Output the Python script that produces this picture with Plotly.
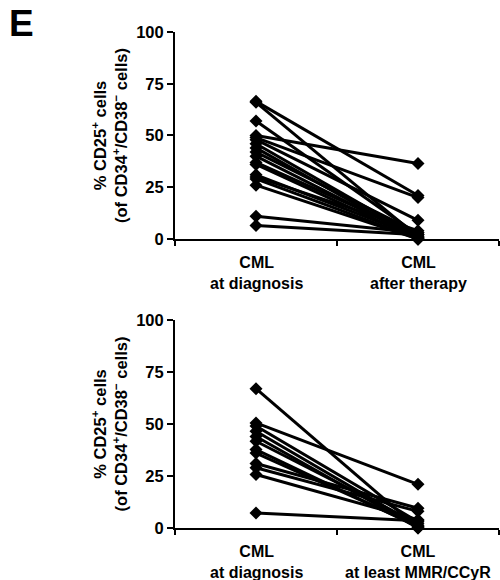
import plotly.graph_objects as go

# Paired patient values (% CD25+ of CD34+/CD38- cells)
categories_top = ["CML<br>at diagnosis", "CML<br>after therapy"]
categories_bottom = ["CML<br>at diagnosis", "CML<br>at least MMR/CCyR"]

diagnosis_top = [66.5, 66.0, 57.0, 50.0, 49.0, 48.0, 46.0, 44.0, 42.0, 40.0,
                 37.0, 36.0, 31.0, 30.0, 29.0, 26.0, 11.0, 6.5]
after_therapy = [21.0, 1.0, 2.0, 36.5, 20.0, 9.0, 1.0, 0.0, 3.0, 0.5,
                 2.0, 0.0, 1.0, 4.0, 0.0, 0.0, 3.0, 2.0]

diagnosis_bottom = [67.0, 50.5, 49.0, 46.5, 44.0, 41.7, 37.7, 36.0, 31.0, 29.0, 25.7, 7.2]
mmr_ccyr = [0.0, 21.0, 3.0, 1.0, 0.0, 2.0, 0.5, 1.0, 9.5, 8.0, 4.0, 3.5]

y_ticks = [0, 25, 50, 75, 100]

FONT = "Liberation Sans"
BLACK = "#000000"

fig = go.Figure()


def add_pairs(before, after, xa, ya):
    for b, a in zip(before, after):
        fig.add_trace(go.Scatter(
            x=[0, 1], y=[b, a], xaxis=xa, yaxis=ya,
            mode="lines+markers",
            line=dict(color=BLACK, width=3),
            marker=dict(symbol="diamond", size=10, color=BLACK),
            cliponaxis=False, showlegend=False, hoverinfo="skip",
        ))


add_pairs(diagnosis_top, after_therapy, "x", "y")
add_pairs(diagnosis_bottom, mmr_ccyr, "x2", "y2")

ytitle = "% CD25<sup>+</sup> cells<br>(of CD34<sup>+</sup>/CD38<sup>−</sup> cells)"

xaxis_common = dict(
    range=[-0.5, 1.5], tickvals=[-0.5, 0.5, 1.5], ticktext=["", "", ""],
    ticks="outside", ticklen=5, tickwidth=2, tickcolor=BLACK,
    showline=True, linecolor=BLACK, linewidth=2,
    showgrid=False, zeroline=False, fixedrange=True,
)
yaxis_common = dict(
    range=[0, 100], tickvals=y_ticks,
    ticks="outside", ticklen=6, tickwidth=2, tickcolor=BLACK,
    showline=True, linecolor=BLACK, linewidth=2,
    showgrid=False, zeroline=False,
    tickfont=dict(family=FONT, size=16.5, color=BLACK, weight="bold"),
    title=dict(text=ytitle, standoff=4,
               font=dict(family=FONT, size=16.5, color=BLACK, weight="bold")),
)

fig.update_layout(
    width=500, height=580,
    margin=dict(l=175, r=1, t=32, b=52),
    paper_bgcolor="white", plot_bgcolor="white",
    xaxis=dict(domain=[0, 1], anchor="y", **xaxis_common),
    yaxis=dict(domain=[0.5827, 1], anchor="x", **yaxis_common),
    xaxis2=dict(domain=[0, 1], anchor="y2", **xaxis_common),
    yaxis2=dict(domain=[0, 0.4194], anchor="x2", **yaxis_common),
)

# Category labels under each panel
for cats, xref, yref in [(categories_top, "x", "y domain"), (categories_bottom, "x2", "y2 domain")]:
    for i, label in enumerate(cats):
        fig.add_annotation(
            x=i, y=0, xref=xref, yref=yref, text=label, showarrow=False,
            xanchor="center", yanchor="top", yshift=-13,
            font=dict(family=FONT, size=16, color=BLACK, weight="bold"),
        )

# Panel letter
fig.add_annotation(
    x=-0.52, y=1.063, xref="paper", yref="paper", text="E", showarrow=False,
    xanchor="left", yanchor="top",
    font=dict(family=FONT, size=37, color=BLACK, weight="bold"),
)

fig.write_html("out.html")
